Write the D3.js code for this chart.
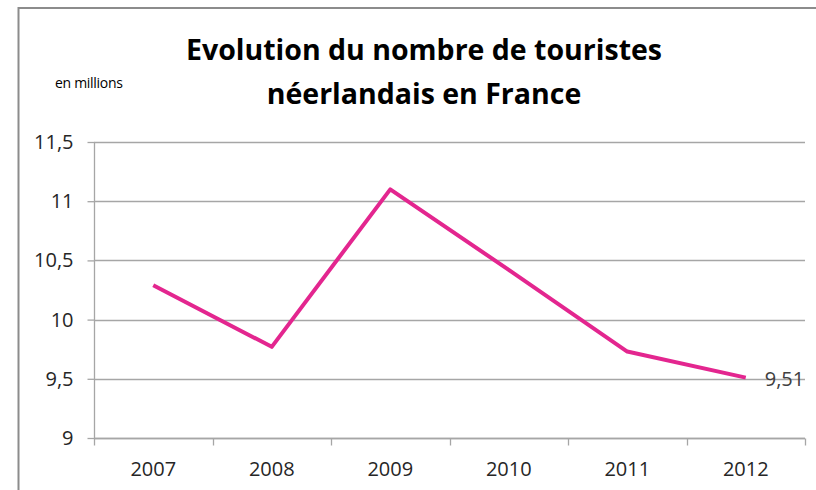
<!DOCTYPE html>
<html>
<head>
<meta charset="utf-8">
<script src="https://cdn.jsdelivr.net/npm/d3@7"></script>
<style>
  body { margin: 0; background: #fff; }
  svg { display: block; }
  text { font-family: "Open Sans", sans-serif; }
</style>
</head>
<body>
<div id="chart"></div>
<script>
// tourist numbers (millions)
var years = ["2007", "2008", "2009", "2010", "2011", "2012"];
var tourists = [10.29, 9.77, 11.10, 10.42, 9.73, 9.51];
var yTicks = [9, 9.5, 10, 10.5, 11, 11.5];
var titleLines = ["Evolution du nombre de touristes", "néerlandais en France"];

let width = 816;
let height = 490;
let plot = { left: 94, right: 805, top: 142, bottom: 438 };

var svg = d3.select("#chart")
  .append("svg")
  .attr("width", width)
  .attr("height", height);

// chart frame (cut off on the right and bottom like the screenshot)
svg.append("path")
  .attr("d", "M18.5," + height + "V8H" + width)
  .attr("fill", "none")
  .attr("stroke", "#8c8c8c")
  .attr("stroke-width", 2);

var x = d3.scaleBand().domain(years).range([plot.left, plot.right]);
var y = d3.scaleLinear().domain([9, 11.5]).range([plot.bottom, plot.top]);

var fmt = d => String(d).replace(".", ",");

// horizontal gridlines
svg.append("g")
  .selectAll("line")
  .data(yTicks)
  .enter().append("line")
  .attr("x1", plot.left)
  .attr("x2", plot.right)
  .attr("y1", d => Math.round(y(d)) + 0.5)
  .attr("y2", d => Math.round(y(d)) + 0.5)
  .attr("stroke", "#a6a6a6")
  .attr("stroke-width", 1.3);

// y axis
var yAxis = svg.append("g")
  .attr("transform", "translate(" + (plot.left + 0.5) + ",0)")
  .call(d3.axisLeft(y).tickValues(yTicks).tickFormat(fmt).tickSize(7).tickPadding(14));
yAxis.select(".domain").attr("stroke", "#a6a6a6").attr("stroke-width", 1.3).attr("d", "M0," + plot.top + "V" + plot.bottom);
yAxis.selectAll(".tick line").attr("stroke", "#a6a6a6").attr("stroke-width", 1.3);
yAxis.selectAll(".tick text")
  .attr("font-size", 20)
  .attr("font-family", "Open Sans")
  .attr("fill", "#262626");

// x axis, ticks sit on the band edges
var xAxis = svg.append("g")
  .attr("transform", "translate(0," + (Math.round(plot.bottom) + 0.5) + ")");
xAxis.append("line")
  .attr("x1", plot.left).attr("x2", plot.right)
  .attr("stroke", "#a6a6a6").attr("stroke-width", 1.3);
var edges = years.map(d => x(d)).concat([x(years[years.length - 1]) + x.bandwidth()]);
xAxis.selectAll(".edge")
  .data(edges)
  .enter().append("line")
  .attr("class", "edge")
  .attr("x1", d => Math.round(d) + 0.5)
  .attr("x2", d => Math.round(d) + 0.5)
  .attr("y1", 0)
  .attr("y2", 7)
  .attr("stroke", "#a6a6a6")
  .attr("stroke-width", 1.3);
xAxis.selectAll(".lab")
  .data(years)
  .enter().append("text")
  .attr("class", "lab")
  .attr("x", d => x(d) + x.bandwidth() / 2)
  .attr("y", 37)
  .attr("text-anchor", "middle")
  .attr("font-size", 20)
  .attr("fill", "#262626")
  .text(d => d);

// the series line
var line = d3.line()
  .x((d, i) => x(years[i]) + x.bandwidth() / 2)
  .y(d => y(d));

svg.append("path")
  .datum(tourists)
  .attr("d", line)
  .attr("fill", "none")
  .attr("stroke", "#e3268f")
  .attr("stroke-width", 4)
  .attr("stroke-linejoin", "round");

// last value label
var last = tourists.length - 1;
svg.append("text")
  .attr("x", x(years[last]) + x.bandwidth() / 2 + 19)
  .attr("y", y(tourists[last]) + 8)
  .attr("font-size", 20)
  .attr("fill", "#404040")
  .text(fmt(tourists[last]));

// title
svg.append("g")
  .selectAll("text")
  .data(titleLines)
  .enter().append("text")
  .attr("x", 424)
  .attr("y", (d, i) => 60 + i * 44)
  .attr("text-anchor", "middle")
  .attr("font-size", 28.5)
  .attr("font-weight", "bold")
  .attr("fill", "#000")
  .text(d => d);

svg.append("text")
  .attr("x", 55)
  .attr("y", 88)
  .attr("font-size", 14)
  .attr("letter-spacing", -0.3)
  .attr("fill", "#000")
  .text("en millions");
</script>
</body>
</html>
